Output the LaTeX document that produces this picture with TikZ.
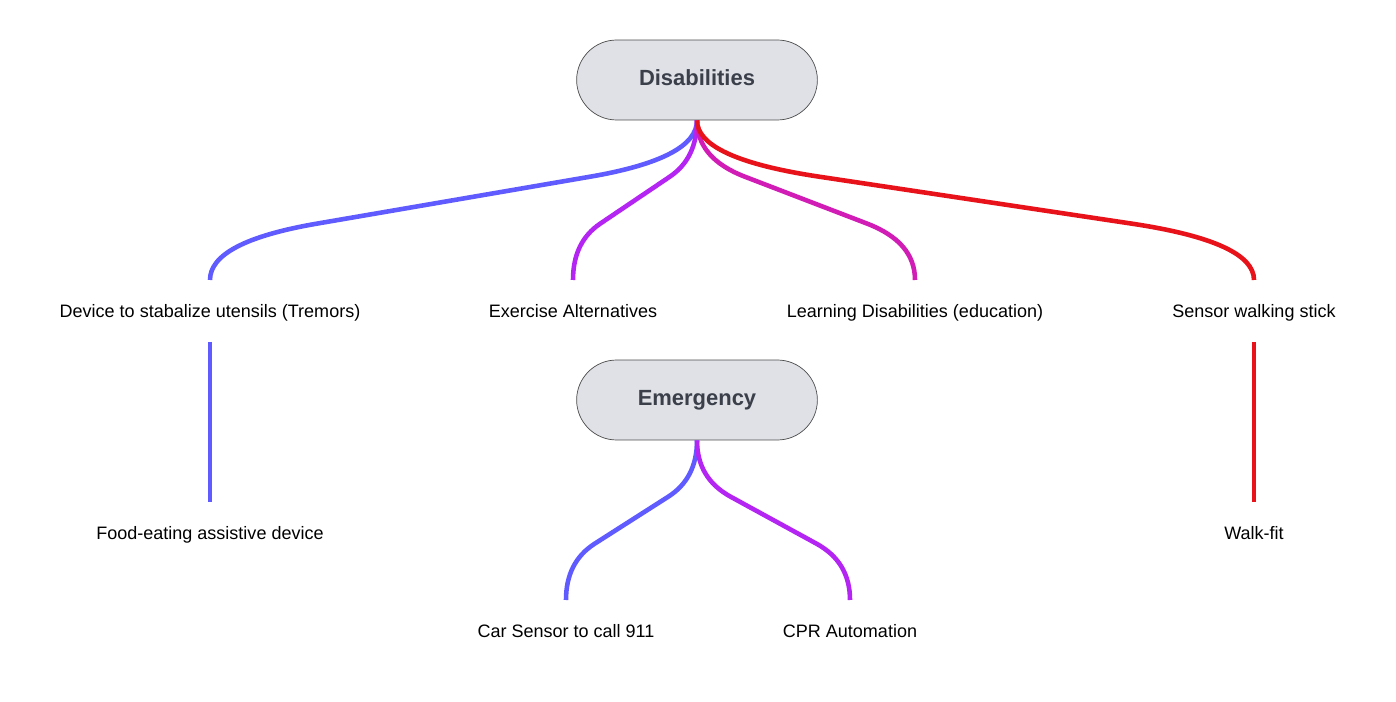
\documentclass[tikz,border=0pt]{standalone}
\usepackage{fontspec}
\setmainfont{Liberation Sans}
\usetikzlibrary{shapes.misc, calc}

\definecolor{lineBlue}{HTML}{5F5BFF}
\definecolor{linePurple}{HTML}{B424F2}
\definecolor{lineMagenta}{HTML}{D11CB6}
\definecolor{lineRed}{HTML}{E8121A}
\definecolor{boxFill}{HTML}{DFE1E6}
\definecolor{boxText}{HTML}{3A3F4A}

\tikzset{
    topic/.style = {draw = gray!60!black, fill = boxFill, rounded rectangle, minimum width = 5.05cm, minimum height = 1.6cm, text height = 9pt, text depth = 2.6pt, font = \fontsize{12.5}{15}\selectfont\bfseries, text = boxText},
    leaf/.style = {font = \fontsize{10.25}{12}\selectfont, text height = 7.4pt, text depth = 2.1pt},
    link/.style = {line width = 2.6pt}
}

% curved connector: vertical start, straight diagonal, vertical end
\newcommand{\branchline}[3]{%
    \coordinate (c1) at ($(#2) + (0, 38)$);
    \coordinate (c2) at ($(#3) + (0, -38)$);
    \coordinate (p1) at ($(c1)!0.22!(c2)$);
    \coordinate (p2) at ($(c1)!0.78!(c2)$);
    \draw[link, #1] (#2) .. controls ($(#2)!0.667!(c1)$) and ($(p1)!0.667!(c1)$) .. (p1)
        -- (p2) .. controls ($(p2)!0.667!(c2)$) and ($(#3)!0.667!(c2)$) .. (#3);
}

\begin{document}
\begin{tikzpicture}[x = 0.02cm, y = -0.02cm]
        \useasboundingbox (0, 0) rectangle (1396, 702);

        \node[topic] (dis) at (697, 80) {Disabilities};
        \node[topic] (emg) at (697, 400) {Emergency};

        \node[leaf] (dev) at (210, 313) {Device to stabalize utensils (Tremors)};
        \node[leaf] (exe) at (573, 313) {Exercise Alternatives};
        \node[leaf] (lrn) at (915, 313) {Learning Disabilities (education)};
        \node[leaf] (sns) at (1254, 313) {Sensor walking stick};
        \node[leaf] (food) at (210, 535) {Food-eating assistive device};
        \node[leaf] (walk) at (1254, 535) {Walk-fit};
        \node[leaf] (car) at (566, 633) {Car Sensor to call 911};
        \node[leaf] (cpr) at (850, 633) {CPR Automation};

        \coordinate (devT) at (210, 280);
        \coordinate (exeT) at (573, 280);
        \coordinate (lrnT) at (915, 280);
        \coordinate (snsT) at (1254, 280);
        \coordinate (devB) at (210, 342);
        \coordinate (snsB) at (1254, 342);
        \coordinate (foodT) at (210, 502);
        \coordinate (walkT) at (1254, 502);
        \coordinate (carT) at (566, 600);
        \coordinate (cprT) at (850, 600);

        % disabilities branches
        \branchline{lineBlue}{dis.south}{devT}
        \branchline{linePurple}{dis.south}{exeT}
        \branchline{lineMagenta}{dis.south}{lrnT}
        \branchline{lineRed}{dis.south}{snsT}

        % second level
        \draw[link, lineBlue] (devB) -- (foodT);
        \draw[link, lineRed] (snsB) -- (walkT);

        % emergency branches
        \branchline{lineBlue}{emg.south}{carT}
        \branchline{linePurple}{emg.south}{cprT}

    \end{tikzpicture}
\end{document}
